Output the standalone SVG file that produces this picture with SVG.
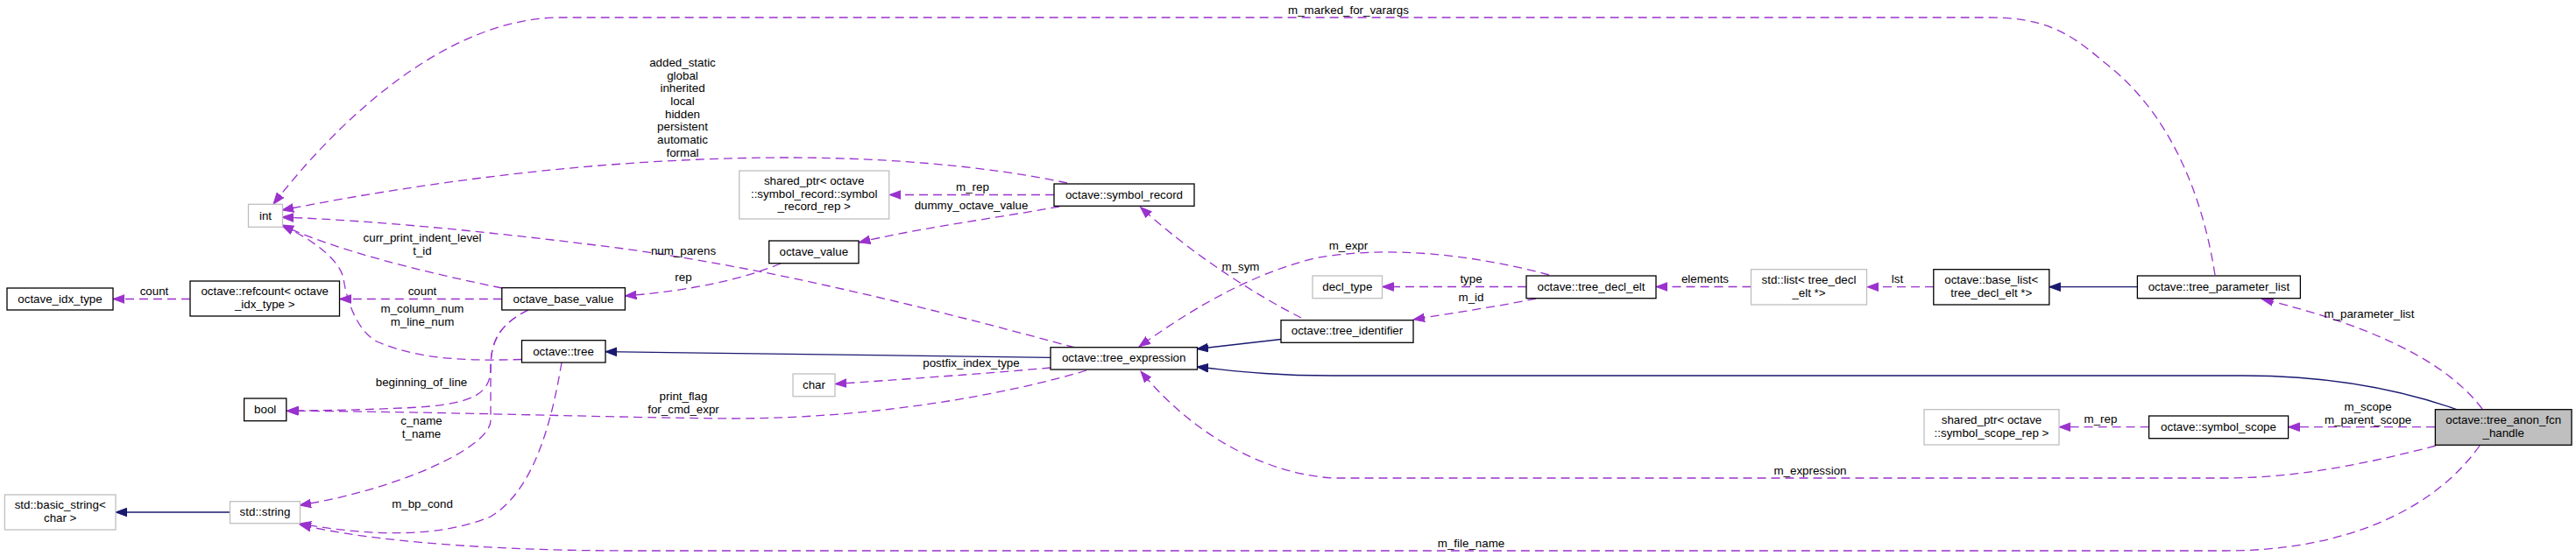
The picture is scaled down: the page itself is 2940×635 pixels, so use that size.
<svg xmlns="http://www.w3.org/2000/svg" width="2940" height="635" viewBox="0 0 2940 635">
<style>
text{font-family:"Liberation Sans",Arial,Helvetica,sans-serif;font-size:13.33px;fill:#000;text-anchor:middle}
.nd{fill:#fff;stroke:#000;stroke-width:1.3}
.ng{fill:#fff;stroke:#bfbfbf;stroke-width:1.3}
.nf{fill:#bfbfbf;stroke:#000;stroke-width:1.3}
.u{fill:none;stroke:#9a32cd;stroke-width:1.3;stroke-dasharray:10,6;marker-end:url(#ap)}
.i{fill:none;stroke:#191970;stroke-width:1.3;marker-end:url(#an)}
</style>
<defs>
<marker id="ap" markerUnits="userSpaceOnUse" markerWidth="14" markerHeight="11" refX="13" refY="5" orient="auto" viewBox="0 0 14 10"><path d="M0,0.2 L13,5 L0,9.8 z" fill="#9a32cd" stroke="#9a32cd" stroke-width="1"/></marker>
<marker id="an" markerUnits="userSpaceOnUse" markerWidth="14" markerHeight="11" refX="13" refY="5" orient="auto" viewBox="0 0 14 10"><path d="M0,0.2 L13,5 L0,9.8 z" fill="#191970" stroke="#191970" stroke-width="1"/></marker>
</defs>
<rect width="2940" height="635" fill="#fff"/>
<g id="edges">
<path class="u" d="M217,341.5 L129,341.5"/>
<text x="176" y="337">count</text>
<path class="u" d="M572.8,341.5 L387.5,341.5"/>
<text x="482" y="337">count</text>
<path class="u" d="M573,329 C480,310 380,285 322,257"/>
<text x="482" y="276">curr_print_indent_level</text>
<text x="482" y="291">t_id</text>
<path class="u" d="M595.5,410.5 C540,412 480,412 430,390 C408,378 396,345 392,318 C388,298 360,275 322,257.5"/>
<text x="482" y="357">m_column_num</text>
<text x="482" y="372">m_line_num</text>
<path class="u" d="M603,354 C570,370 560,390 560,420 C560,450 540,460 480,465 C420,468 370,469 328,469"/>
<text x="481" y="441">beginning_of_line</text>
<path class="u" d="M603,354 C570,370 560,390 560,420 L560,480 C560,512 450,560 342,577"/>
<text x="481" y="485">c_name</text>
<text x="481" y="500">t_name</text>
<path class="u" d="M641,414 C630,480 610,560 560,590 C500,615 420,612 342,598"/>
<text x="482" y="580">m_bp_cond</text>
<path class="i" d="M262.5,585 L132,585"/>
<path class="u" d="M891,301 C850,318 790,332 713.4,338"/>
<text x="780" y="321">rep</text>
<path class="u" d="M1209,236 C1130,250 1040,262 980.3,277"/>
<text x="1108.5" y="239">dummy_octave_value</text>
<path class="u" d="M1203,222.5 L1015,222.5"/>
<text x="1110" y="218">m_rep</text>
<path class="u" d="M1218,209 C1120,188 1000,180 900,180 C700,180 500,205 322,240"/>
<text x="779" y="76">added_static</text>
<text x="779" y="90.7">global</text>
<text x="779" y="105.3">inherited</text>
<text x="779" y="120">local</text>
<text x="779" y="134.7">hidden</text>
<text x="779" y="149.3">persistent</text>
<text x="779" y="164">automatic</text>
<text x="779" y="178.7">formal</text>
<path class="u" d="M2528,314 C2515,230 2480,130 2400,70 C2360,35 2330,20 2270,20 L640,20 C520,20 400,120 312,233"/>
<text x="1539" y="16">m_marked_for_varargs</text>
<path class="u" d="M1227,397 C1000,335 830,298 680,280 C560,265 430,252 322,248"/>
<text x="780" y="291">num_parens</text>
<path class="i" d="M1199,408.3 L691,401.7"/>
<path class="u" d="M1199,420 C1120,427 1020,434 953,438.5"/>
<text x="1108.5" y="419">postfix_index_type</text>
<path class="u" d="M1240,423 C1150,450 1000,478 834,478 C700,477 500,470 327,469.3"/>
<text x="780" y="457">print_flag</text>
<text x="780" y="472">for_cmd_expr</text>
<path class="i" d="M1462,387.5 L1366,398.5"/>
<path class="i" d="M2805,468 C2740,445 2660,429 2560,429 L1520,429 C1440,429 1400,422 1366,419"/>
<path class="u" d="M1485,363 C1430,335 1360,290 1301.5,236.5"/>
<text x="1416" y="309">m_sym</text>
<path class="u" d="M1768,314 C1680,290 1580,280 1500,295 C1420,315 1350,360 1300,396"/>
<text x="1539" y="285">m_expr</text>
<path class="u" d="M1742,327.5 L1577.5,327.5"/>
<text x="1679" y="323">type</text>
<path class="u" d="M1753,341 C1710,350 1660,357 1613,365"/>
<text x="1679" y="344">m_id</text>
<path class="u" d="M1998.5,327.5 L1890,327.5"/>
<text x="1946" y="323">elements</text>
<path class="u" d="M2207,327.7 L2131,327.7"/>
<text x="2165.5" y="323">lst</text>
<path class="i" d="M2439.4,327.7 L2338.7,327.7"/>
<path class="u" d="M2833,467 C2790,410 2700,370 2581.5,341.5"/>
<text x="2704" y="363">m_parameter_list</text>
<path class="u" d="M2779,487.7 L2611.5,487.7"/>
<text x="2702.6" y="469">m_scope</text>
<text x="2702.6" y="484">m_parent_scope</text>
<path class="u" d="M2452.6,487.7 L2350,487.7"/>
<text x="2397.5" y="483">m_rep</text>
<path class="u" d="M2780,509 C2700,530 2620,546 2540,546 L1520,546 C1440,540 1360,495 1302,424"/>
<text x="2066" y="542">m_expression</text>
<path class="u" d="M2830,509 C2780,580 2680,629 2540,629 L720,629 C560,629 420,618 342,599"/>
<text x="1679" y="625">m_file_name</text>
</g>
<g id="n_octave_idx_type"><rect class="nd" x="8" y="329" width="121" height="25"/><text x="68.5" y="345.5">octave_idx_type</text></g>
<g id="n_refcount"><rect class="nd" x="217" y="321" width="170.5" height="40"/><text x="302.2" y="337">octave::refcount&lt; octave</text><text x="302.2" y="351.7">_idx_type &gt;</text></g>
<g id="n_int"><rect class="ng" x="283.5" y="233.3" width="39" height="26"/><text x="303" y="250.5">int</text></g>
<g id="n_bool"><rect class="nd" x="278.6" y="455" width="48.2" height="25.7"/><text x="302.7" y="472">bool</text></g>
<g id="n_basic_string"><rect class="ng" x="5.4" y="565" width="126.6" height="40"/><text x="68.7" y="581">std::basic_string&lt;</text><text x="68.7" y="595.7">char &gt;</text></g>
<g id="n_std_string"><rect class="ng" x="262.5" y="572.7" width="80" height="25"/><text x="302.5" y="589">std::string</text></g>
<g id="n_octave_base_value"><rect class="nd" x="572.8" y="328.7" width="140.6" height="25.3"/><text x="643" y="345.5">octave_base_value</text></g>
<g id="n_tree"><rect class="nd" x="595.5" y="388.7" width="95.5" height="25.3"/><text x="643" y="405.5">octave::tree</text></g>
<g id="n_shared_ptr_record"><rect class="ng" x="843.7" y="195" width="171" height="55"/><text x="929.2" y="211">shared_ptr&lt; octave</text><text x="929.2" y="225.7">::symbol_record::symbol</text><text x="929.2" y="240.3">_record_rep &gt;</text></g>
<g id="n_symbol_record"><rect class="nd" x="1203" y="210" width="160" height="25.3"/><text x="1283" y="226.8">octave::symbol_record</text></g>
<g id="n_octave_value"><rect class="nd" x="877.7" y="275" width="102.3" height="25.7"/><text x="928.8" y="291.8">octave_value</text></g>
<g id="n_char"><rect class="ng" x="905" y="427" width="48" height="25.7"/><text x="929" y="443.8">char</text></g>
<g id="n_tree_expression"><rect class="nd" x="1199" y="396.7" width="167.5" height="25.3"/><text x="1282.7" y="413.3">octave::tree_expression</text></g>
<g id="n_decl_type"><rect class="ng" x="1498" y="315" width="79.5" height="25.7"/><text x="1537.8" y="331.8">decl_type</text></g>
<g id="n_tree_decl_elt"><rect class="nd" x="1742" y="315" width="148" height="25.7"/><text x="1816" y="331.8">octave::tree_decl_elt</text></g>
<g id="n_tree_identifier"><rect class="nd" x="1462" y="365.7" width="151" height="25.6"/><text x="1537.5" y="382.3">octave::tree_identifier</text></g>
<g id="n_std_list"><rect class="ng" x="1998.5" y="307.7" width="132" height="40.3"/><text x="2064.5" y="324">std::list&lt; tree_decl</text><text x="2064.5" y="338.7">_elt *&gt;</text></g>
<g id="n_base_list"><rect class="nd" x="2206.8" y="307.7" width="132" height="40.3"/><text x="2272.8" y="324">octave::base_list&lt;</text><text x="2272.8" y="338.7">tree_decl_elt *&gt;</text></g>
<g id="n_tree_parameter_list"><rect class="nd" x="2439.4" y="315" width="186" height="25.7"/><text x="2532.4" y="331.8">octave::tree_parameter_list</text></g>
<g id="n_shared_ptr_scope"><rect class="ng" x="2196" y="467.7" width="154" height="40.3"/><text x="2273" y="484">shared_ptr&lt; octave</text><text x="2273" y="498.7">::symbol_scope_rep &gt;</text></g>
<g id="n_symbol_scope"><rect class="nd" x="2452.6" y="475" width="159" height="25.7"/><text x="2532" y="491.8">octave::symbol_scope</text></g>
<g id="n_tree_anon_fcn_handle"><rect class="nf" x="2779.4" y="467.7" width="155.6" height="40.6"/><text x="2857.2" y="484">octave::tree_anon_fcn</text><text x="2857.2" y="498.7">_handle</text></g>
</svg>
